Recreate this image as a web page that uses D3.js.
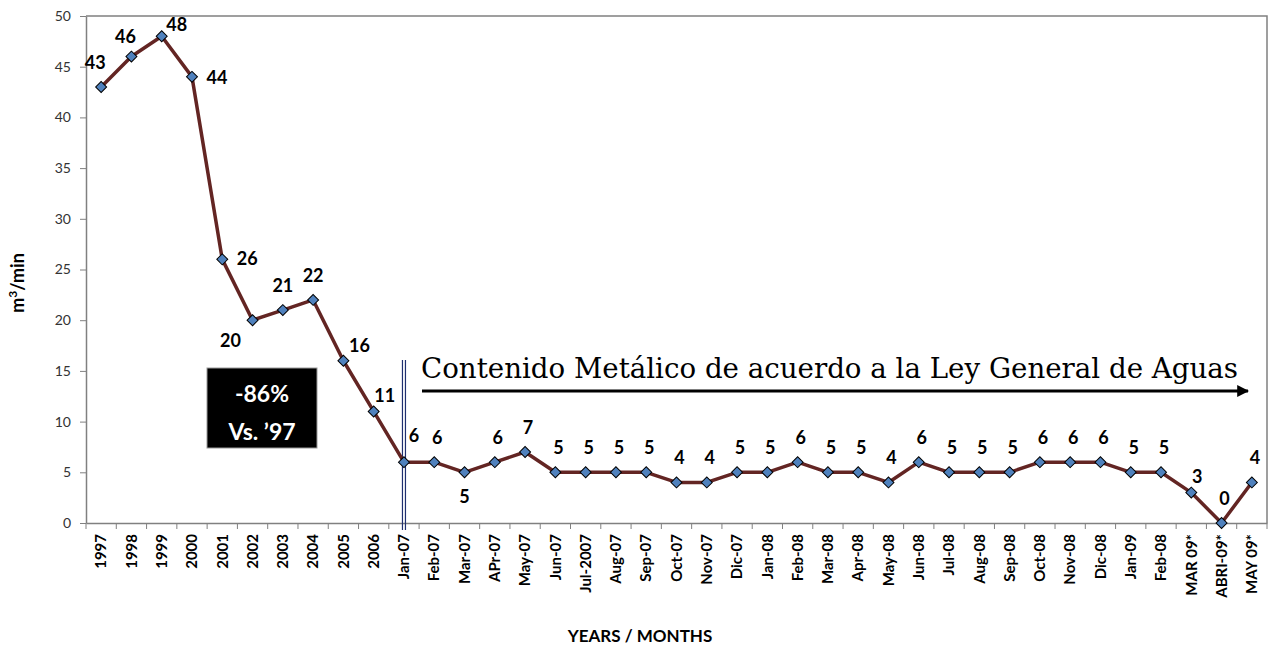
<!DOCTYPE html>
<html><head><meta charset="utf-8">
<script src="https://cdn.jsdelivr.net/npm/d3@7"></script>
<style>body{margin:0;background:#fff}</style>
</head><body>
<svg id="c" width="1269" height="648"></svg>
<script>
const categories = ["1997","1998","1999","2000","2001","2002","2003","2004","2005","2006",
"Jan-07","Feb-07","Mar-07","APr-07","May-07","Jun-07","Jul-2007","Aug-07","Sep-07","Oct-07","Nov-07","Dic-07",
"Jan-08","Feb-08","Mar-08","Apr-08","May-08","Jun-08","Jul-08","Aug-08","Sep-08","Oct-08","Nov-08","Dic-08",
"Jan-09","Feb-08","MAR 09*","ABRI-09*","MAY 09*"];
const values = [43,46,48,44,26,20,21,22,16,11,6,6,5,6,7,5,5,5,5,4,4,5,5,6,5,5,4,6,5,5,5,6,6,6,5,5,3,0,4];
const yTicks = [0,5,10,15,20,25,30,35,40,45,50];
// label offsets [dx, dy(baseline)] relative to point
const labelOffsets = {0:[-6,-18],1:[-6,-14],2:[15,-5],3:[25,7],4:[25,6],5:[-22,27],6:[0,-18],7:[0,-18],8:[16,-9],9:[11,-9],10:[10,-20],12:[0,31],36:[6,-10]};

const FONT = "Lato, 'Open Sans', sans-serif";
const svg = d3.select("#c");
const L=86, R=1267, T=16, B=523;
const idx = categories.map((d,i)=>i);
const x = d3.scaleBand().domain(idx).range([L,R]);
const y = d3.scaleLinear().domain([0,50]).range([B,T]);
const cx = i => x(i)+x.bandwidth()/2;

// frame top/right
svg.append("path").attr("d",`M${L},${T}H${R}V${B}`).attr("fill","none").attr("stroke","#808080").attr("stroke-width",1.5);

// y axis
const ya = svg.append("g").attr("transform",`translate(${L},0)`).call(d3.axisLeft(y).tickValues(yTicks).tickSize(6).tickSizeOuter(0));
ya.select(".domain").attr("stroke","#808080").attr("stroke-width",1.5);
ya.selectAll(".tick line").attr("stroke","#808080");
ya.selectAll("text").attr("font-family",FONT).attr("font-size",14).attr("fill","#333").attr("dx",-6);

// x axis
const xa = svg.append("g").attr("transform",`translate(0,${B})`).call(d3.axisBottom(x).tickSize(0).tickSizeOuter(0).tickFormat(i=>categories[i]));
xa.select(".domain").attr("stroke","#808080").attr("stroke-width",1.5);
xa.selectAll("text").attr("font-family",FONT).attr("font-weight","bold").attr("font-size",15).attr("fill","#000")
  .attr("transform","rotate(-90)").attr("text-anchor","end").attr("x",-11).attr("y",0).attr("dy","0.35em");
// boundary tick marks
svg.append("g").selectAll("line").data(idx.concat([idx.length])).join("line")
  .attr("x1",d=>L+d*x.bandwidth()).attr("x2",d=>L+d*x.bandwidth())
  .attr("y1",B).attr("y2",B+6).attr("stroke","#808080").attr("stroke-width",1);

// double vertical line
const vx = cx(10);
[-1.5,1.5].forEach(o=>svg.append("line").attr("x1",vx+o).attr("x2",vx+o).attr("y1",360).attr("y2",530).attr("stroke","#1F2F6F").attr("stroke-width",1.2));

// line
const line = d3.line().x((d,i)=>cx(i)).y(d=>y(d));
svg.append("path").datum(values).attr("d",line).attr("fill","none").attr("stroke","#632523").attr("stroke-width",3.5).attr("stroke-linejoin","round");

// markers
svg.append("g").selectAll("path").data(values).join("path")
  .attr("d",d3.symbol().type(d3.symbolSquare).size(60))
  .attr("transform",(d,i)=>`translate(${cx(i)},${y(d)}) rotate(45)`)
  .attr("fill","#4F81BD").attr("stroke","#000").attr("stroke-width",1);

// labels
svg.append("g").selectAll("text").data(values).join("text")
  .attr("x",(d,i)=>cx(i)+(labelOffsets[i]?labelOffsets[i][0]:3))
  .attr("y",(d,i)=>y(d)+(labelOffsets[i]?labelOffsets[i][1]:-18))
  .attr("text-anchor","middle").attr("font-family",FONT).attr("font-weight","bold").attr("font-size",18).attr("fill","#000")
  .text(d=>d);

// annotation text & arrow
svg.append("text").attr("x",421).attr("y",378).attr("font-family","'DejaVu Serif',serif").attr("font-size",27).attr("fill","#000")
  .attr("textLength",817).attr("lengthAdjust","spacingAndGlyphs")
  .text("Contenido Metálico de acuerdo a la Ley General de Aguas");
svg.append("defs").append("marker").attr("id","ah").attr("viewBox","0 0 10 10").attr("refX",9).attr("refY",5)
  .attr("markerWidth",4).attr("markerHeight",4).attr("orient","auto").attr("markerUnits","strokeWidth")
  .append("path").attr("d","M0,0L10,5L0,10z").attr("fill","#000");
svg.append("line").attr("x1",422).attr("x2",1248).attr("y1",391).attr("y2",391).attr("stroke","#000").attr("stroke-width",3).attr("marker-end","url(#ah)");

// black box
svg.append("rect").attr("x",207).attr("y",368).attr("width",110).attr("height",80).attr("fill","#000").attr("stroke","#999").attr("stroke-width",1);
svg.append("text").attr("x",262).attr("y",402).attr("text-anchor","middle").attr("fill","#fff").attr("font-family",FONT).attr("font-weight","bold").attr("font-size",23).text("-86%");
svg.append("text").attr("x",262).attr("y",440).attr("text-anchor","middle").attr("fill","#fff").attr("font-family",FONT).attr("font-weight","bold").attr("font-size",23).text("Vs. ’97");

// axis titles
svg.append("text").attr("transform","translate(24,283) rotate(-90)").attr("text-anchor","middle")
  .attr("font-family",FONT).attr("font-weight","bold").attr("font-size",18)
  .html('m<tspan baseline-shift="super" font-size="12">3</tspan>/min');
svg.append("text").attr("x",640).attr("y",642).attr("text-anchor","middle")
  .attr("font-family",FONT).attr("font-weight","bold").attr("font-size",17).text("YEARS / MONTHS");
</script>
</body></html>
